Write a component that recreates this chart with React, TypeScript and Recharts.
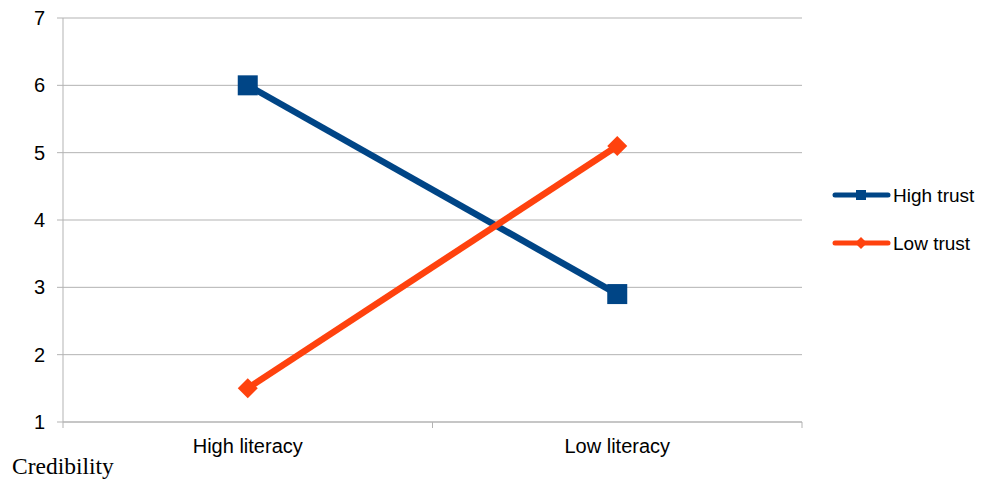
import React from "react";
import { LineChart, Line, XAxis, YAxis, CartesianGrid, Legend } from "recharts";

const categories = ["High literacy", "Low literacy"];
const highTrust = [6.0, 2.9];
const lowTrust = [1.5, 5.1];
const yTicks = [1, 2, 3, 4, 5, 6, 7];

const data = categories.map((c, i) => ({ name: c, high: highTrust[i], low: lowTrust[i] }));

const BLUE = "#004586";
const ORANGE = "#ff420e";
const GRID = "#b3b3b3";
const FONT = "'Liberation Sans', Arial, sans-serif";

const SquareDot = (p: any) => {
  const { cx, cy } = p;
  if (cx == null || cy == null) return null;
  return <rect x={cx - 10} y={cy - 10} width={20} height={20} fill={BLUE} />;
};

const DiamondDot = (p: any) => {
  const { cx, cy } = p;
  if (cx == null || cy == null) return null;
  const r = 10;
  return <polygon points={`${cx},${cy - r} ${cx + r},${cy} ${cx},${cy + r} ${cx - r},${cy}`} fill={ORANGE} />;
};

const XTick = (p: any) => {
  const { x, payload, index, visibleTicksCount } = p;
  const n = visibleTicksCount || 2;
  const half = 739 / n / 2;
  const y0 = 422;
  return (
    <g>
      <line x1={x - half} x2={x - half} y1={y0} y2={y0 + 6} stroke={GRID} />
      {index === n - 1 && <line x1={x + half} x2={x + half} y1={y0} y2={y0 + 6} stroke={GRID} />}
      <text x={x} y={y0 + 31} textAnchor="middle" fill="#000" fontSize={20} fontFamily={FONT}>
        {payload.value}
      </text>
    </g>
  );
};

const LegendContent = () => {
  const items = [
    { label: "High trust", color: BLUE, shape: "square" },
    { label: "Low trust", color: ORANGE, shape: "diamond" },
  ];
  return (
    <svg width={160} height={80}>
      {items.map((it, i) => {
        const cy = 15 + i * 48;
        return (
          <g key={it.label}>
            <line x1={7} x2={60} y1={cy} y2={cy} stroke={it.color} strokeWidth={5} strokeLinecap="round" />
            {it.shape === "square" ? (
              <rect x={28} y={cy - 5} width={10} height={10} fill={it.color} />
            ) : (
              <polygon points={`33,${cy - 6} 39,${cy} 33,${cy + 6} 27,${cy}`} fill={it.color} />
            )}
            <text x={65} y={cy + 7} fontSize={19} fontFamily={FONT} fill="#000">
              {it.label}
            </text>
          </g>
        );
      })}
    </svg>
  );
};

export default function App() {
  return (
    <div style={{ position: "absolute", left: 0, top: 0, width: 989, height: 481, background: "#fff" }}>
      <LineChart width={989} height={481} data={data} margin={{ top: 18, right: 187, bottom: 29, left: 0 }}>
        <CartesianGrid vertical={false} stroke={GRID} strokeWidth={1} />
        <XAxis
          dataKey="name"
          scale="band"
          height={30}
          axisLine={{ stroke: GRID }}
          tickLine={false}
          tick={<XTick />}
          interval={0}
        />
        <YAxis
          width={63}
          domain={[1, 7]}
          ticks={yTicks}
          interval={0}
          axisLine={{ stroke: GRID }}
          tickLine={{ stroke: GRID }}
          tickSize={6}
          tickMargin={12}
          tick={{ fill: "#000", fontSize: 20, fontFamily: FONT }}
        />
        <Legend
          layout="vertical"
          align="center"
          verticalAlign="middle"
          content={<LegendContent />}
          wrapperStyle={{ position: "absolute", left: 828, top: 180, width: 160, height: 80 }}
        />
        <Line
          type="linear"
          dataKey="high"
          name="High trust"
          stroke={BLUE}
          strokeWidth={6.5}
          dot={<SquareDot />}
          activeDot={false}
          isAnimationActive={false}
        />
        <Line
          type="linear"
          dataKey="low"
          name="Low trust"
          stroke={ORANGE}
          strokeWidth={6.5}
          dot={<DiamondDot />}
          activeDot={false}
          isAnimationActive={false}
        />
      </LineChart>
      <div
        style={{
          position: "absolute",
          left: 12,
          top: 453,
          fontFamily: "'Liberation Serif', 'Times New Roman', serif",
          fontSize: 23.5,
          lineHeight: "27px",
          color: "#000",
        }}
      >
        Credibility
      </div>
    </div>
  );
}
